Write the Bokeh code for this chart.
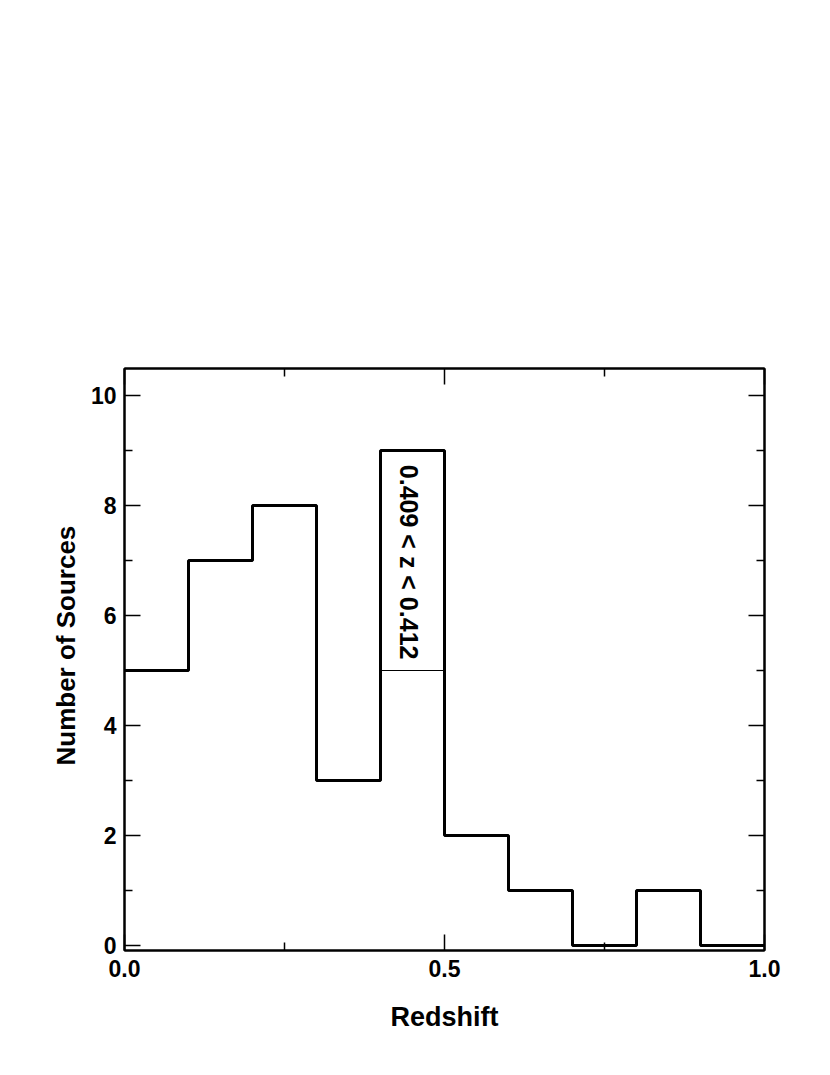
import math
from bokeh.plotting import figure
from bokeh.models import Range1d, LinearAxis, FixedTicker, NumeralTickFormatter, Title
from bokeh.core.properties import value
from bokeh.embed import file_html
from bokeh.resources import INLINE

# ---- data ----
bin_edges = [0.0, 0.1, 0.2, 0.3, 0.4, 0.5, 0.6, 0.7, 0.8, 0.9, 1.0]
counts = [5, 7, 8, 3, 9, 2, 1, 0, 1, 0]
split_bin = [0.4, 0.5]
split_count = 5
annotation = "0.409 < z < 0.412"
annot_pos = [0.444, 6.97]
x_major = [0.0, 0.5, 1.0]
x_minor = [0.25, 0.75]
y_major = [0, 2, 4, 6, 8, 10]
y_minor = [1, 3, 5, 7, 9]
x_title = "Redshift"
y_title = "Number of Sources"

FONT = "Liberation Sans"

p = figure(width=820, height=1060, output_backend="svg", toolbar_location=None,
           x_range=Range1d(0.0, 1.0), y_range=Range1d(-0.09, 10.49),
           x_axis_label=x_title,
           min_border_left=124, min_border_right=56, min_border_top=368,
           min_border_bottom=110)
p.grid.visible = False
p.outline_line_color = "black"
p.outline_line_width = 2
p.background_fill_color = "white"
p.border_fill_color = "white"

xt = FixedTicker(ticks=x_major, minor_ticks=x_minor)
yt = FixedTicker(ticks=y_major, minor_ticks=y_minor)

def style(ax, ticker, labels=True):
    ax.ticker = ticker
    ax.axis_line_color = "black"
    ax.axis_line_width = 2
    ax.major_tick_in = 16
    ax.major_tick_out = 0
    ax.minor_tick_in = 8
    ax.minor_tick_out = 0
    ax.major_tick_line_width = 1.5
    ax.minor_tick_line_width = 1.5
    ax.major_tick_line_color = "black"
    ax.minor_tick_line_color = "black"
    if labels:
        ax.major_label_text_font = FONT
        ax.major_label_text_font_style = "bold"
        ax.major_label_text_font_size = "23px"
        ax.major_label_text_color = "black"
        ax.axis_label_text_font = FONT
        ax.axis_label_text_font_style = "bold"
        ax.axis_label_text_font_size = "27px"
        ax.axis_label_text_color = "black"
    else:
        ax.major_label_text_font_size = "0px"
        ax.major_label_text_color = None

style(p.xaxis[0], xt)
style(p.yaxis[0], yt)
p.xaxis[0].formatter = NumeralTickFormatter(format="0.0")
p.xaxis[0].major_label_standoff = 9
p.xaxis[0].axis_label_standoff = 22
p.yaxis[0].major_label_standoff = 8

top_ax = LinearAxis()
style(top_ax, xt, labels=False)
p.add_layout(top_ax, "above")
right_ax = LinearAxis()
style(right_ax, yt, labels=False)
p.add_layout(right_ax, "right")

# y-axis title, a little above the frame centre as in the original
p.add_layout(Title(text=y_title, align="left", offset=185, standoff=13,
                   text_font=FONT, text_font_style="bold",
                   text_font_size="26px", text_color="black"), "left")

# stepped histogram
p.step(x=bin_edges, y=counts + [counts[-1]], mode="after",
       line_color="black", line_width=3)

# sub-bin division line
p.segment(x0=[split_bin[0]], y0=[split_count], x1=[split_bin[1]], y1=[split_count],
          line_color="black", line_width=1)

p.text(x=[annot_pos[0]], y=[annot_pos[1]], text=[annotation], angle=-math.pi / 2,
       text_align="center", text_baseline="middle", text_font=value(FONT),
       text_font_style="bold", text_font_size="25px", text_color="black")

open("out.html", "w").write(file_html(p, INLINE))
